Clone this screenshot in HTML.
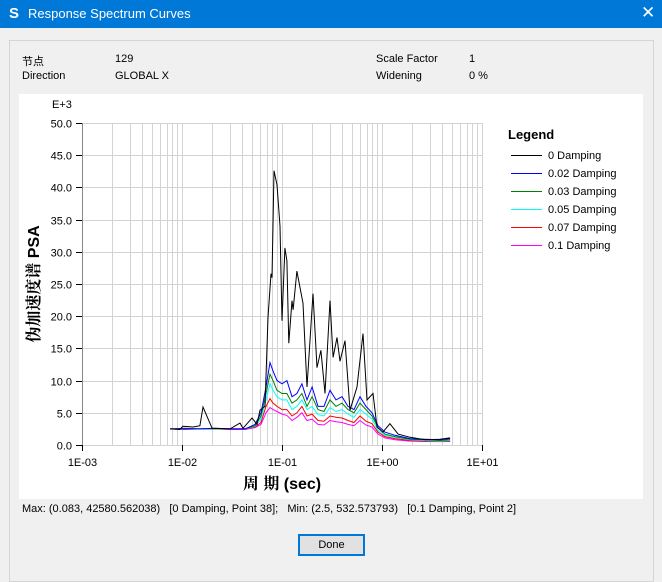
<!DOCTYPE html>
<html><head><meta charset="utf-8"><style>
body{margin:0;width:662px;height:566px;background:#f0f0f0;font-family:"Liberation Sans","Noto Sans CJK SC",sans-serif;font-size:11px;color:#000;position:relative;overflow:hidden}
.abs{position:absolute}
#title{left:0;top:0;width:662px;height:28px;background:#0078d7;color:#fff}
.sw{position:absolute;left:511px;width:31px;height:0;border-top:1px solid}
</style></head><body>
<div id="title" class="abs">
 <span class="abs" style="left:9px;top:5px;font-weight:bold;font-size:15px">S</span>
 <span class="abs" style="left:28px;top:6px;font-size:13px">Response Spectrum Curves</span>
 <span class="abs" style="left:641px;top:3px;font-size:17px">✕</span>
</div>
<div class="abs" style="left:9px;top:40px;width:643px;height:540px;border:1px solid #d5d5d5"></div>
<span class="abs" style="left:22px;top:53px">节点</span>
<span class="abs" style="left:115px;top:53px">129</span>
<span class="abs" style="left:22px;top:70px">Direction</span>
<span class="abs" style="left:115px;top:70px">GLOBAL X</span>
<span class="abs" style="left:376px;top:53px">Scale Factor</span>
<span class="abs" style="left:469px;top:53px">1</span>
<span class="abs" style="left:376px;top:70px">Widening</span>
<span class="abs" style="left:469px;top:70px">0 %</span>
<svg class="abs" style="left:19px;top:94px" width="624" height="405">
 <rect width="624" height="405" fill="#fff"/>
 <g id="g" transform="translate(-19,-94)"></g>
</svg>
<div class="sw" style="top:155px;border-color:#000000"></div>
<div class="sw" style="top:173px;border-color:#0000ff"></div>
<div class="sw" style="top:191px;border-color:#008000"></div>
<div class="sw" style="top:209px;border-color:#00ffff"></div>
<div class="sw" style="top:227px;border-color:#ff0000"></div>
<div class="sw" style="top:245px;border-color:#ff00ff"></div>
<span class="abs" style="left:22px;top:503px">Max: (0.083, 42580.562038)&nbsp;&nbsp; [0 Damping, Point 38];&nbsp;&nbsp; Min: (2.5, 532.573793)&nbsp;&nbsp; [0.1 Damping, Point 2]</span>
<div class="abs" style="left:298px;top:534px;width:63px;height:18px;border:2px solid #0078d7;background:#e1e1e1;text-align:center;line-height:18px;font-size:11px">Done</div>
<script>
const blackPeriods=[0.0076,0.0095,0.0102,0.0129,0.0151,0.0162,0.0200,0.0302,0.038,0.0407,0.0501,0.0562,0.0603,0.0676,0.0724,0.0776,0.0794,0.0832,0.0891,0.0955,0.1,0.107,0.112,0.117,0.126,0.129,0.141,0.162,0.178,0.204,0.224,0.245,0.269,0.302,0.324,0.355,0.380,0.427,0.479,0.562,0.646,0.708,0.813,0.891,1.02,1.2,1.45,1.91,2.69,3.8,4.8];
const damp0=[2.5,2.4,2.9,2.8,3.0,5.9,2.6,2.5,3.4,2.6,4.2,3.2,5.4,6.0,19.8,26.6,26.0,42.6,40.4,34.0,19.3,30.6,28.6,15.8,22.4,21.0,27.0,22.0,9.0,23.5,12.0,14.7,8.0,22.4,13.6,16.7,13.0,16.2,5.4,9.0,17.3,7.0,8.0,2.8,2.0,3.3,1.7,1.2,0.8,0.9,1.1];
const periods=[0.0076,0.0107,0.0151,0.0214,0.0302,0.0427,0.0537,0.0617,0.0692,0.0759,0.0813,0.0891,0.1,0.112,0.126,0.141,0.158,0.178,0.2,0.229,0.263,0.302,0.347,0.398,0.457,0.525,0.603,0.692,0.794,0.912,1.07,1.35,1.91,2.69,3.8,4.8];
const damp002=[2.5,2.5,2.5,2.6,2.5,2.5,3.2,5.0,9.0,12.8,11.5,10.0,9.5,10.0,7.5,8.0,9.5,7.0,9.0,6.0,6.0,8.5,7.0,7.5,6.0,5.5,7.5,6.0,5.0,3.0,2.0,1.5,1.0,0.9,0.8,1.0];
const damp003=[2.5,2.6,2.5,2.5,2.5,2.5,3.0,4.5,8.0,11.0,10.0,8.5,8.0,8.0,6.5,7.0,8.0,6.0,7.5,5.5,5.2,7.0,6.0,6.5,5.5,5.0,6.5,5.5,4.5,2.7,1.7,1.3,0.9,0.8,0.7,0.8];
const damp005=[2.5,2.5,2.5,2.5,2.5,2.5,2.9,4.0,7.0,9.5,8.5,7.5,7.0,7.0,5.5,6.0,7.0,5.5,6.0,4.7,4.5,5.8,5.2,5.5,4.8,4.3,5.5,4.8,4.0,2.3,1.5,1.2,0.8,0.7,0.6,0.7];
const damp007=[2.5,2.5,2.5,2.5,2.5,2.5,2.8,3.5,6.0,7.2,6.5,6.0,5.5,5.5,4.5,5.0,6.0,4.5,4.8,3.8,3.7,4.5,4.3,4.2,3.8,3.5,4.5,3.7,3.3,2.0,1.3,1.0,0.7,0.6,0.55,0.6];
const damp01=[2.5,2.4,2.5,2.5,2.4,2.4,2.7,3.2,5.0,5.8,5.5,5.2,4.8,4.6,3.8,4.3,5.0,3.8,4.0,3.2,3.1,3.8,3.6,3.5,3.2,3.0,3.8,3.1,2.8,1.7,1.1,0.8,0.6,0.55,0.53,0.55];
const yTicks=[0,5,10,15,20,25,30,35,40,45,50];
const xTickLabels=["1E-03","1E-02","1E-01","1E+00","1E+01"];
const seriesNames=["0 Damping","0.02 Damping","0.03 Damping","0.05 Damping","0.07 Damping","0.1 Damping"];
const seriesColors=["#000000","#0000ff","#008000","#00ffff","#ff0000","#ff00ff"];

const X0=82,X1=482,Y0=445,Y1=123;
const xs=p=>X0+(Math.log10(p)+3)*(X1-X0)/4;
const ys=v=>Y0-v*(Y0-Y1)/50;
const g=document.getElementById('g');
const NS='http://www.w3.org/2000/svg';
function mk(t,a,txt){const e=document.createElementNS(NS,t);for(const k in a)e.setAttribute(k,a[k]);if(txt!=null)e.textContent=txt;g.appendChild(e);return e;}
for(let d=-3;d<1;d++)for(let m=1;m<=10;m++){const x=Math.round(xs(m*Math.pow(10,d)))+0.5;
 const l=mk('line',{x1:x,x2:x,y1:Y1,y2:Y0,stroke:'#d3d3d3','stroke-width':1});
 }
yTicks.forEach(v=>{const y=Math.round(ys(v))+0.5;
 const l=mk('line',{x1:X0,x2:X1,y1:y,y2:y,stroke:'#d3d3d3'});
 
 const t=mk('line',{x1:76,x2:X0,y1:y,y2:y,stroke:'#000'});
 
 const tx=mk('text',{x:72,y:y+4,'text-anchor':'end','font-size':11,'font-family':'Liberation Sans'},v.toFixed(1));
 });
const ax=mk('line',{x1:X0+0.5,x2:X0+0.5,y1:Y1,y2:Y0+1,stroke:'#888'});

xTickLabels.forEach((s,i)=>{const x=Math.round(xs(Math.pow(10,i-3)))+0.5;
 const t=mk('line',{x1:x,x2:x,y1:Y0,y2:Y0+6,stroke:'#000'});
 
 const tx=mk('text',{x:x,y:466,'text-anchor':'middle','font-size':11,'font-family':'Liberation Sans'},s);
 });
const ex=mk('text',{x:52,y:108,'font-size':11,'font-family':'Liberation Sans'},'E+3');

const xt=mk('text',{x:282,y:489,'text-anchor':'middle','font-size':16,'font-weight':'bold','font-family':'Liberation Sans, Noto Serif CJK SC, serif'},'周 期 (sec)');

const yt=mk('text',{x:0,y:0,'text-anchor':'middle','font-size':16,'font-weight':'bold','font-family':'Liberation Sans, Noto Serif CJK SC, serif',transform:'translate(39,284) rotate(-90)'},'伪加速度谱 PSA');

const sets=[[blackPeriods,damp0],[periods,damp002],[periods,damp003],[periods,damp005],[periods,damp007],[periods,damp01]];
for(let i=sets.length-1;i>=0;i--){const [P,V]=sets[i];
 const pts=P.map((p,j)=>xs(p).toFixed(1)+','+ys(V[j]).toFixed(1)).join(' ');
 const pl=mk('polyline',{points:pts,fill:'none',stroke:seriesColors[i],'stroke-width':1});
 }
const lt=mk('text',{x:508,y:139,'font-size':13,'font-weight':'bold','font-family':'Liberation Sans'},'Legend');

seriesNames.forEach((n,i)=>{const y=155+i*18;
 const t=mk('text',{x:548,y:y+4,'font-size':11,'font-family':'Liberation Sans'},n);
 });
</script>
</body></html>
